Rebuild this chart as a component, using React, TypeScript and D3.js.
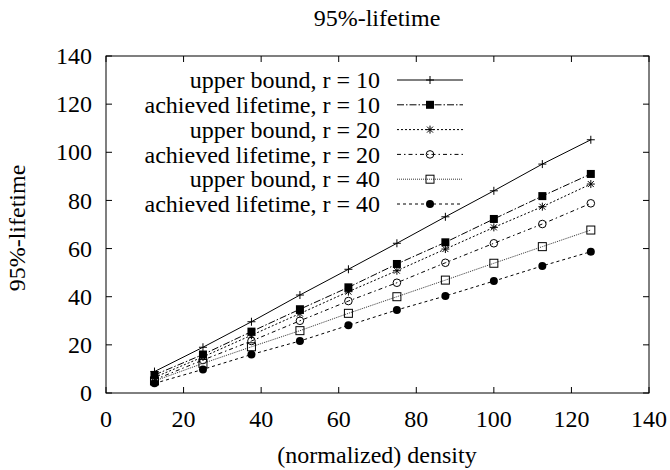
import React from "react";
import * as d3 from "d3";

const density = [12.5, 25, 37.5, 50, 62.5, 75, 87.5, 100, 112.5, 125];
const upperR10 = [8.9, 19, 29.6, 40.7, 51.4, 62.2, 73.2, 84, 95.1, 105.2];
const achievedR10 = [7.5, 16, 25.5, 34.8, 43.9, 53.6, 62.6, 72.3, 81.8, 91];
const upperR20 = [6.5, 15, 24, 33, 42.1, 50.8, 59.8, 68.8, 77.4, 86.8];
const achievedR20 = [5.5, 13.7, 21.6, 30, 38.2, 45.8, 54.1, 62.2, 70.2, 78.8];
const upperR40 = [5, 12.3, 19.2, 25.9, 33.1, 40, 46.9, 53.9, 60.8, 67.7];
const achievedR40 = [4, 9.8, 16, 21.6, 28.1, 34.5, 40.3, 46.5, 52.8, 58.7];

const seriesNames = [
  "upper bound, r = 10",
  "achieved lifetime, r = 10",
  "upper bound, r = 20",
  "achieved lifetime, r = 20",
  "upper bound, r = 40",
  "achieved lifetime, r = 40",
];
const seriesValues = [upperR10, achievedR10, upperR20, achievedR20, upperR40, achievedR40];
const xTicks = [0, 20, 40, 60, 80, 100, 120, 140];
const yTicks = [0, 20, 40, 60, 80, 100, 120, 140];

const styles = [
  { dash: "none", marker: "plus", color: "#000" },
  { dash: "7,2,1.5,2", marker: "fsquare", color: "#000" },
  { dash: "2,2", marker: "star", color: "#000" },
  { dash: "4,3,1.5,3", marker: "ocircle", color: "#000" },
  { dash: "1,1", marker: "osquare", color: "#333" },
  { dash: "3,3", marker: "fcircle", color: "#000" },
];

const FONT = '"Liberation Serif", "DejaVu Serif", serif';
const FS = 24;
const textStyle = { fontFamily: FONT, fontSize: FS };

function Marker({ type, x, y }: { type: string; x: number; y: number }) {
  const s = 4;
  switch (type) {
    case "plus":
      return (
        <g stroke="#000" strokeWidth={1}>
          <line x1={x - s} x2={x + s} y1={y} y2={y} />
          <line x1={x} x2={x} y1={y - s} y2={y + s} />
        </g>
      );
    case "fsquare":
      return <rect x={x - 4} y={y - 4} width={8} height={8} fill="#000" />;
    case "star":
      return (
        <g stroke="#000" strokeWidth={1}>
          <line x1={x - s} x2={x + s} y1={y} y2={y} />
          <line x1={x} x2={x} y1={y - s} y2={y + s} />
          <line x1={x - 3} x2={x + 3} y1={y - 3} y2={y + 3} />
          <line x1={x - 3} x2={x + 3} y1={y + 3} y2={y - 3} />
        </g>
      );
    case "ocircle":
      return <circle cx={x} cy={y} r={3.8} fill="none" stroke="#000" strokeWidth={1} />;
    case "osquare":
      return <rect x={x - 4} y={y - 4} width={8} height={8} fill="none" stroke="#000" strokeWidth={1} />;
    case "fcircle":
      return <circle cx={x} cy={y} r={4} fill="#000" />;
    default:
      return null;
  }
}

export default function App() {
  const W = 670;
  const H = 470;
  const left = 106, right = 649, top = 56, bottom = 393;
  const x = d3.scaleLinear().domain([0, 140]).range([left, right]);
  const y = d3.scaleLinear().domain([0, 140]).range([bottom, top]);
  const line = d3
    .line<[number, number]>()
    .x((d) => x(d[0]))
    .y((d) => y(d[1]));
  const tick = 6;

  const legendTextX = 380;
  const legendLineX1 = 397;
  const legendLineX2 = 463;
  const legendY0 = 80;
  const legendDy = 24.8;

  return (
    <svg
      width={W}
      height={H}
      style={{ position: "absolute", left: 0, top: 0, background: "#fff", fontFamily: FONT }}
    >
      <rect x={0} y={0} width={W} height={H} fill="#fff" />
      <text x={377} y={26} textAnchor="middle" style={textStyle} fill="#000">
        95%-lifetime
      </text>
      {xTicks.map((t) => (
        <g key={"x" + t}>
          <line x1={x(t)} x2={x(t)} y1={bottom} y2={bottom - tick} stroke="#000" />
          <line x1={x(t)} x2={x(t)} y1={top} y2={top + tick} stroke="#000" />
          <text x={x(t)} y={427} textAnchor="middle" style={textStyle} fill="#000">
            {t}
          </text>
        </g>
      ))}
      {yTicks.map((t) => (
        <g key={"y" + t}>
          <line x1={left} x2={left + tick} y1={y(t)} y2={y(t)} stroke="#000" />
          <line x1={right} x2={right - tick} y1={y(t)} y2={y(t)} stroke="#000" />
          <text x={92} y={y(t)} dy="0.34em" textAnchor="end" style={textStyle} fill="#000">
            {t}
          </text>
        </g>
      ))}
      <rect
        x={left}
        y={top}
        width={right - left}
        height={bottom - top}
        fill="none"
        stroke="#000"
        strokeWidth={1}
      />
      <text x={377} y={463} textAnchor="middle" style={textStyle} fill="#000">
        (normalized) density
      </text>
      <text
        transform={`translate(25,228) rotate(-90)`}
        textAnchor="middle"
        style={textStyle}
        fill="#000"
      >
        95%-lifetime
      </text>
      {seriesValues.map((vals, i) => {
        const pts = density.map((d, j) => [d, vals[j]] as [number, number]);
        return (
          <g key={"s" + i}>
            <path
              d={line(pts) || ""}
              fill="none"
              stroke={styles[i].color}
              strokeWidth={1}
              strokeDasharray={styles[i].dash}
            />
            {pts.map((p, j) => (
              <Marker key={j} type={styles[i].marker} x={x(p[0])} y={y(p[1])} />
            ))}
          </g>
        );
      })}
      {seriesNames.map((name, i) => {
        const ly = legendY0 + i * legendDy;
        return (
          <g key={"l" + i}>
            <text x={legendTextX} y={ly} dy="0.34em" textAnchor="end" style={textStyle} fill="#000">
              {name}
            </text>
            <line
              x1={legendLineX1}
              x2={legendLineX2}
              y1={ly}
              y2={ly}
              stroke={styles[i].color}
              strokeWidth={1}
              strokeDasharray={styles[i].dash}
            />
            <Marker type={styles[i].marker} x={(legendLineX1 + legendLineX2) / 2} y={ly} />
          </g>
        );
      })}
    </svg>
  );
}
